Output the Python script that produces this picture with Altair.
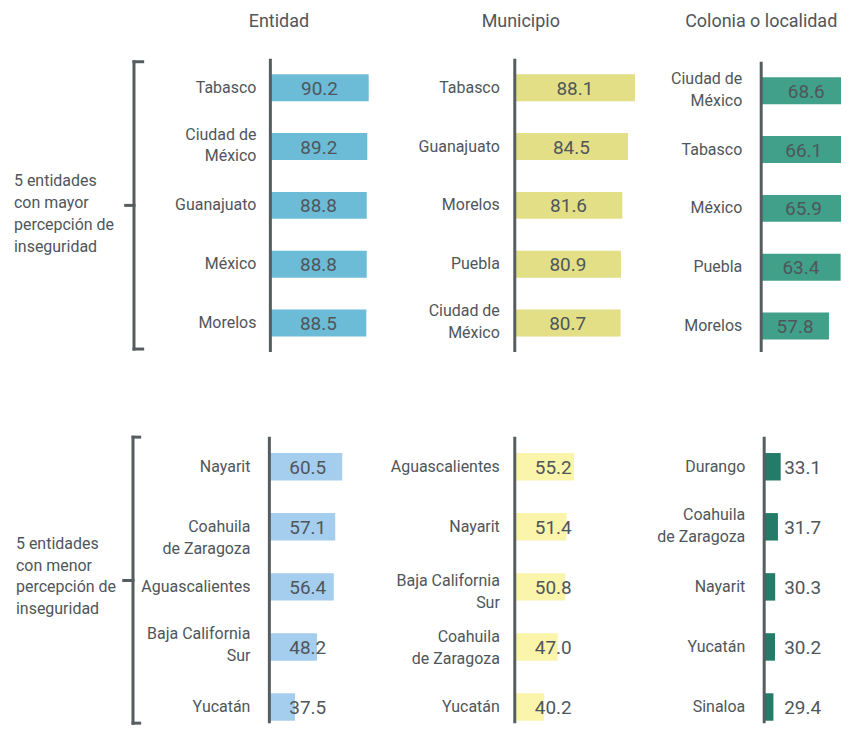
import altair as alt
import pandas as pd

# ---------------- data ----------------
columns = ["Entidad", "Municipio", "Colonia o localidad"]
groups = ["5 entidades|con mayor|percepción de|inseguridad",
          "5 entidades|con menor|percepción de|inseguridad"]

ent_top_labels = ["Tabasco", "Ciudad de|México", "Guanajuato", "México", "Morelos"]
ent_top_values = [90.2, 89.2, 88.8, 88.8, 88.5]
mun_top_labels = ["Tabasco", "Guanajuato", "Morelos", "Puebla", "Ciudad de|México"]
mun_top_values = [88.1, 84.5, 81.6, 80.9, 80.7]
col_top_labels = ["Ciudad de|México", "Tabasco", "México", "Puebla", "Morelos"]
col_top_values = [68.6, 66.1, 65.9, 63.4, 57.8]

ent_bot_labels = ["Nayarit", "Coahuila|de Zaragoza", "Aguascalientes", "Baja California|Sur", "Yucatán"]
ent_bot_values = [60.5, 57.1, 56.4, 48.2, 37.5]
mun_bot_labels = ["Aguascalientes", "Nayarit", "Baja California|Sur", "Coahuila|de Zaragoza", "Yucatán"]
mun_bot_values = [55.2, 51.4, 50.8, 47.0, 40.2]
col_bot_labels = ["Durango", "Coahuila|de Zaragoza", "Nayarit", "Yucatán", "Sinaloa"]
col_bot_values = [33.1, 31.7, 30.3, 30.2, 29.4]

# ---------------- style ----------------
FONT = "Roboto"
TEXT = "#4f565b"
LINE = "#565d61"

TOP_H = 294
BOT_H = 287

# vertical nudges (px) of the two-line category labels, per panel
OFF_TOP = {"Ciudad de|México": -12}
OFF_ENT_BOT = {"Baja California|Sur": -13}
OFF_MUN_BOT = {"Baja California|Sur": -6, "Coahuila|de Zaragoza": -10}
OFF_COL_BOT = {"Coahuila|de Zaragoza": -12}


def panel(labels, values, color, dmin, slope, width, height, pads, label_pad, offsets,
          inside=True, title=None, title_dx=0, clip=False, shift=0):
    df = pd.DataFrame({"label": labels, "value": values})
    dmax = dmin + width / slope
    pi, po, al = pads
    y = alt.Y("label:N", sort=labels, title=None,
              scale=alt.Scale(paddingInner=pi, paddingOuter=po, align=al), axis=None)
    xs = alt.Scale(domain=[dmin, dmax], zero=False, nice=False)
    base = alt.Chart(df).encode(y=y)
    bars = base.mark_bar(color=color, clip=clip, yOffset=shift).encode(
        x=alt.X("value:Q", scale=xs, axis=None), x2=alt.datum(dmin))
    if inside:
        txt = base.transform_calculate(mid=f"(datum.value + {dmin}) / 2").mark_text(
            font=FONT, fontSize=19, color=TEXT, align="center", baseline="middle", dy=1 + shift
        ).encode(x=alt.X("mid:Q", scale=xs, axis=None),
                 text=alt.Text("value:Q", format=".1f"))
    else:
        txt = base.mark_text(font=FONT, fontSize=19, color=TEXT, align="left",
                             baseline="middle", dy=1 + shift).encode(
            x=alt.value(20), text=alt.Text("value:Q", format=".1f"))
    layers = [bars, txt]
    # category labels, grouped by vertical nudge
    by_off = {}
    for lab in labels:
        by_off.setdefault(offsets.get(lab, 0), []).append(lab)
    for off, labs in by_off.items():
        layers.append(
            base.transform_filter(alt.FieldOneOfPredicate(field="label", oneOf=labs))
            .mark_text(font=FONT, fontSize=16, color=TEXT, align="right", baseline="middle",
                       lineBreak="|", lineHeight=22, dy=off + shift)
            .encode(x=alt.value(-label_pad), text="label:N"))
    one = pd.DataFrame({"t": [title if title is not None else ""]})
    # vertical axis line
    layers.append(alt.Chart(one).mark_rule(color=LINE, strokeWidth=3).encode(
        x=alt.value(0), y=alt.value(shift), y2=alt.value(height)))
    if title is not None:
        layers.append(alt.Chart(one).mark_text(
            font=FONT, fontSize=18, color=TEXT, align="center", baseline="middle"
        ).encode(x=alt.value(title_dx), y=alt.value(-37), text="t:N"))
    return alt.layer(*layers).properties(width=width, height=height)


def annot(text, tx, ty, bx, by0, by1, hook, tick_y, tick_len, width, height, top_bound=None):
    one = pd.DataFrame({"t": [text]})
    t = alt.Chart(one).mark_text(font=FONT, fontSize=16, color=TEXT, align="left",
                                 baseline="middle", lineBreak="|", lineHeight=22).encode(
        x=alt.value(tx), y=alt.value(ty), text="t:N")
    r = alt.Chart(one).mark_rule(color=LINE, strokeWidth=3, strokeCap="square")
    v = r.encode(x=alt.value(bx), y=alt.value(by0), y2=alt.value(by1))
    h1 = r.encode(x=alt.value(bx), x2=alt.value(bx + hook), y=alt.value(by0))
    h2 = r.encode(x=alt.value(bx), x2=alt.value(bx + hook), y=alt.value(by1))
    tk = r.encode(x=alt.value(bx - tick_len), x2=alt.value(bx), y=alt.value(tick_y))
    layers = [t, v, h1, h2, tk]
    if top_bound is not None:
        inv = alt.Chart(one).mark_rule(color=LINE, strokeOpacity=0, strokeWidth=1).encode(
            x=alt.value(0), x2=alt.value(2), y=alt.value(top_bound))
        layers.append(inv)
    return alt.layer(*layers).properties(width=width, height=height)


top_pads = (0.542, 0.263, 0.5)
bot_pads = (0.543, 0.155, 0.87)

top_row = alt.hconcat(
    annot(groups[0], 5, 123, 125.3, 3, 291, 8.7, 147, 8.3, 162, TOP_H, top_bound=-49),
    panel(ent_top_labels, ent_top_values, "#6cbbd7", 19.8, 1.4, 145, TOP_H, top_pads, 14,
          OFF_TOP, title=columns[0], title_dx=8.5),
    panel(mun_top_labels, mun_top_values, "#e3df86", 26.2, 1.946, 147, TOP_H, top_pads, 15,
          OFF_TOP, title=columns[1], title_dx=6),
    panel(col_top_labels, col_top_values, "#40a08a", 25.2, 2.084, 80, TOP_H, top_pads, 19,
          OFF_TOP, title=columns[2], title_dx=0, clip=True, shift=3),
    spacing=100, bounds="flush")

bot_row = alt.hconcat(
    annot(groups[1], 7, 107, 124.3, 0.3, 287, 6.7, 144, 9.3, 161, BOT_H),
    panel(ent_bot_labels, ent_bot_values, "#a4cdee", 25.0, 2.057, 146, BOT_H, bot_pads, 19,
          OFF_ENT_BOT, inside=False),
    panel(mun_bot_labels, mun_bot_values, "#fbf4ab", 25.5, 2.0, 150, BOT_H, bot_pads, 15,
          OFF_MUN_BOT, inside=False),
    panel(col_bot_labels, col_bot_values, "#237b68", 24.7, 1.97, 76, BOT_H, bot_pads, 19,
          OFF_COL_BOT, inside=False),
    spacing=100, bounds="flush")

chart = alt.vconcat(top_row, bot_row, spacing=80).properties(
    padding=0, background="white"
).configure_view(stroke="transparent")

chart.save("out.html", embed_options={"renderer": "svg", "actions": False})
